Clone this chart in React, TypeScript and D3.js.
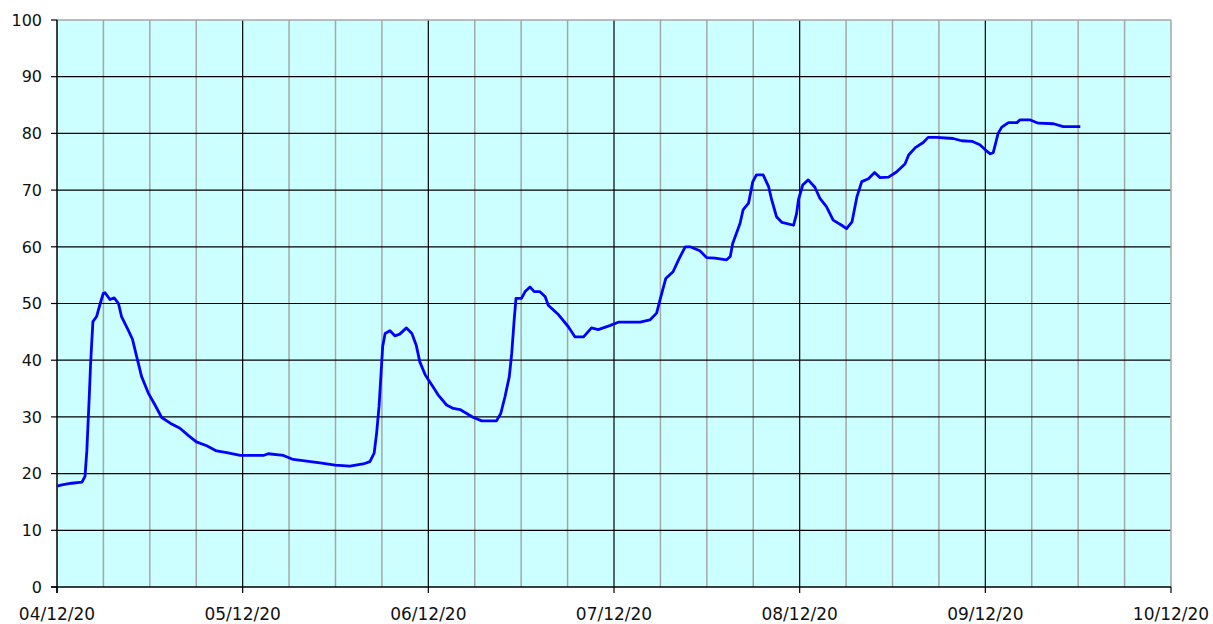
import React from "react";
import * as d3 from "d3";

// Day offsets from 04/12/20 and values
const days = [0, 0.8, 2.4, 4.1, 4.6, 4.9, 5.3, 5.5, 5.7, 5.9, 6.5, 7.1, 7.6, 7.9, 8.7, 9.4, 10.1, 10.6, 11.7, 12.4, 13.1, 13.9, 15.0, 16.1, 17.2, 18.6, 20.2, 21.6, 22.9, 24.6, 26.2, 27.9, 30.1, 33.9, 34.7, 37.2, 38.8, 41.0, 43.2, 45.7, 48.1, 50.3, 51.4, 52.1, 52.5, 52.9, 53.2, 53.5, 53.9, 54.7, 55.5, 56.3, 57.4, 58.3, 59.0, 59.6, 60.5, 61.6, 62.6, 64.0, 65.1, 66.2, 67.3, 68.4, 69.8, 72.2, 72.9, 73.6, 74.3, 74.7, 75.1, 75.4, 76.3, 76.9, 77.7, 78.4, 79.3, 80.2, 80.7, 82.4, 84.0, 85.1, 86.5, 87.8, 88.9, 90.8, 92.2, 95.8, 97.4, 98.5, 99.2, 100.0, 101.2, 102.1, 103.2, 104.0, 105.6, 106.7, 108.1, 110.0, 110.6, 111.0, 112.2, 112.7, 113.6, 114.3, 114.9, 116.0, 116.9, 117.4, 118.2, 119.1, 121.0, 121.5, 121.8, 122.5, 123.4, 124.5, 125.3, 126.4, 127.5, 128.9, 129.7, 130.6, 131.4, 132.2, 133.3, 134.3, 135.2, 136.6, 137.9, 139.3, 139.9, 141.0, 142.3, 143.1, 144.5, 147.2, 148.6, 150.3, 151.6, 152.5, 153.3, 153.8, 154.6, 155.2, 156.3, 157.7, 158.2, 159.8, 161.2, 163.7, 165.3, 168.1];
const values = [17.8, 18.0, 18.3, 18.5, 19.5, 24.0, 33.6, 38.9, 43.0, 46.8, 47.7, 50.0, 51.8, 51.9, 50.7, 51.0, 50.0, 47.7, 45.3, 43.7, 40.6, 37.1, 34.2, 32.1, 29.9, 28.9, 28.0, 26.7, 25.6, 24.9, 24.0, 23.7, 23.2, 23.2, 23.5, 23.2, 22.5, 22.2, 21.9, 21.5, 21.3, 21.7, 22.1, 23.6, 27.1, 31.8, 37.1, 42.4, 44.7, 45.2, 44.3, 44.6, 45.7, 44.7, 42.7, 39.7, 37.4, 35.6, 33.9, 32.1, 31.5, 31.3, 30.6, 29.9, 29.3, 29.3, 30.6, 33.6, 37.1, 41.2, 47.1, 50.9, 50.9, 52.1, 52.9, 52.1, 52.1, 51.2, 49.7, 48.0, 45.9, 44.1, 44.1, 45.7, 45.4, 46.1, 46.7, 46.7, 47.1, 48.3, 51.2, 54.4, 55.6, 57.7, 60.0, 60.0, 59.3, 58.1, 58.0, 57.7, 58.3, 60.6, 64.1, 66.5, 67.7, 71.5, 72.7, 72.7, 70.6, 68.3, 65.3, 64.3, 63.8, 65.9, 68.3, 70.9, 71.8, 70.5, 68.6, 67.1, 64.7, 63.8, 63.2, 64.4, 68.8, 71.5, 72.0, 73.1, 72.2, 72.3, 73.2, 74.6, 76.2, 77.5, 78.4, 79.3, 79.3, 79.1, 78.7, 78.6, 78.0, 77.1, 76.4, 76.6, 80.0, 81.1, 81.9, 81.9, 82.4, 82.4, 81.8, 81.7, 81.2, 81.2];

const monthLabels = ["04/12/20", "05/12/20", "06/12/20", "07/12/20", "08/12/20", "09/12/20", "10/12/20"];
const yTicks = [0, 10, 20, 30, 40, 50, 60, 70, 80, 90, 100];
const totalDays = 183;

export default function App() {
  const W = 1213, H = 624;
  const left = 57, right = 1171, top = 20, bottom = 587;
  const x = d3.scaleLinear().domain([0, totalDays]).range([left, right]);
  const y = d3.scaleLinear().domain([0, 100]).range([bottom, top]);
  const monthStep = totalDays / (monthLabels.length - 1);
  const majorX = monthLabels.map((_, i) => i * monthStep);
  const minorX = d3.range(0, 25).map((i) => (i * monthStep) / 4).filter((_, i) => i % 4 !== 0);
  const pts = days.map((d, i) => [d, values[i]] as [number, number]);
  const line = d3.line<[number, number]>().x((d) => x(d[0])).y((d) => y(d[1]));
  const font = "'DejaVu Sans', Verdana, sans-serif";

  return (
    <svg width={W} height={H} style={{ position: "absolute", left: 0, top: 0 }}>
      <rect x={left} y={top} width={right - left} height={bottom - top} fill="#CCFFFF" />
      {minorX.map((d, i) => (
        <line key={"mn" + i} x1={x(d)} x2={x(d)} y1={top} y2={bottom} stroke="#A6A6A6" strokeWidth={1.5} />
      ))}
      {majorX.slice(1, -1).map((d, i) => (
        <line key={"mj" + i} x1={x(d)} x2={x(d)} y1={top} y2={bottom} stroke="#000" strokeWidth={1.2} />
      ))}
      {yTicks.slice(1, -1).map((t) => (
        <line key={"h" + t} x1={left} x2={right} y1={y(t)} y2={y(t)} stroke="#000" strokeWidth={1.2} />
      ))}
      {/* plot border */}
      <line x1={left} x2={right} y1={top} y2={top} stroke="#A6A6A6" strokeWidth={1.5} />
      <line x1={right} x2={right} y1={top} y2={bottom} stroke="#A6A6A6" strokeWidth={1.5} />
      {/* axes */}
      <line x1={left} x2={left} y1={top} y2={bottom + 6} stroke="#000" strokeWidth={1.5} />
      <line x1={left - 6} x2={right} y1={bottom} y2={bottom} stroke="#000" strokeWidth={1.5} />
      {yTicks.map((t) => (
        <g key={"yt" + t}>
          <line x1={left - 6} x2={left} y1={y(t)} y2={y(t)} stroke="#000" strokeWidth={1.2} />
          <text x={42} y={y(t)} dy="0.36em" textAnchor="end" fontFamily={font} fontSize={16} fill="#111">
            {t}
          </text>
        </g>
      ))}
      {majorX.map((d, i) => (
        <g key={"xt" + i}>
          <line x1={x(d)} x2={x(d)} y1={bottom} y2={bottom + 6} stroke="#000" strokeWidth={1.2} />
          <text x={x(d)} y={620} textAnchor="middle" fontFamily={font} fontSize={17} fill="#111">
            {monthLabels[i]}
          </text>
        </g>
      ))}
      <path d={line(pts) || ""} fill="none" stroke="#0000FF" strokeWidth={2.8} strokeLinejoin="round" />
    </svg>
  );
}
